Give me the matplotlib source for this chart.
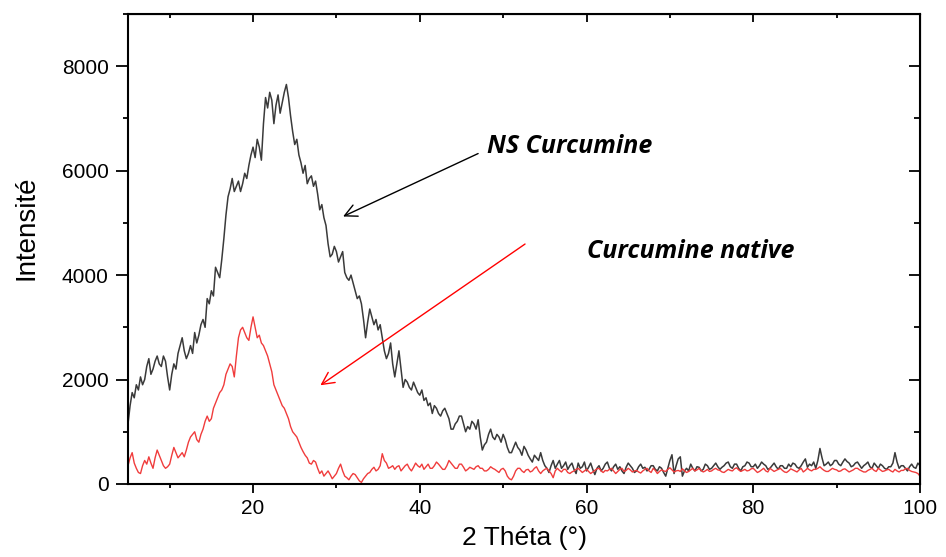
import numpy as np
import matplotlib.pyplot as plt
from matplotlib.ticker import MultipleLocator

# 2 Theta grid (degrees), 0.25 deg step, 5 -> 100
two_theta = np.arange(5.0, 100.001, 0.25)

# NS Curcumine (dark curve); one row = 2 degrees
ns_curcumine = [
    1150, 1500, 1750, 1650, 1900, 1800, 2050, 1900,   # 5
    2000, 2250, 2400, 2100, 2200, 2350, 2450, 2300,   # 7
    2250, 2450, 2350, 2050, 1800, 2100, 2300, 2200,   # 9
    2500, 2650, 2800, 2550, 2400, 2500, 2650, 2500,   # 11
    2900, 2700, 2850, 3050, 3150, 3000, 3550, 3450,   # 13
    3700, 3600, 4150, 4050, 3950, 4300, 4700, 5150,   # 15
    5500, 5650, 5850, 5600, 5700, 5800, 5600, 5750,   # 17
    5950, 5850, 6100, 6300, 6450, 6250, 6600, 6450,   # 19
    6200, 6900, 7400, 7200, 7500, 7350, 6900, 7250,   # 21
    7450, 7100, 7300, 7500, 7650, 7400, 7050, 6750,   # 23
    6500, 6600, 6300, 6150, 5950, 6100, 5750, 5850,   # 25
    5900, 5700, 5800, 5550, 5250, 5350, 5100, 4950,   # 27
    4600, 4350, 4400, 4550, 4450, 4250, 4350, 4450,   # 29
    4050, 3950, 3900, 4000, 3850, 3700, 3550, 3600,   # 31
    3450, 3150, 2800, 3100, 3350, 3200, 3050, 3150,   # 33
    2950, 3050, 2800, 2550, 2400, 2500, 2700, 2300,   # 35
    2050, 2300, 2550, 2200, 1850, 2000, 1950, 1850,   # 37
    1800, 1950, 1850, 1750, 1700, 1800, 1600, 1650,   # 39
    1500, 1550, 1350, 1500, 1450, 1350, 1300, 1400,   # 41
    1450, 1350, 1250, 1050, 1050, 1150, 1200, 1300,   # 43
    1300, 1150, 1000, 1100, 1050, 1200, 1150, 1050,   # 45
    1230, 900, 650, 750, 800, 950, 1050, 900,         # 47
    850, 950, 900, 800, 950, 850, 700, 600,           # 49
    600, 700, 800, 700, 650, 550, 720, 650,           # 51
    550, 480, 420, 550, 500, 450, 600, 450,           # 53
    350, 300, 220, 350, 450, 300, 380, 450,           # 55
    300, 350, 420, 280, 350, 400, 280, 200,           # 57
    400, 300, 330, 420, 250, 320, 400, 280,           # 59
    180, 300, 350, 250, 300, 380, 420, 300,           # 61
    250, 330, 380, 280, 330, 250, 200, 320,           # 63
    400, 350, 300, 220, 250, 330, 380, 300,           # 65
    320, 250, 280, 350, 350, 280, 250, 330,           # 67
    300, 220, 150, 300, 450, 560, 200, 350,           # 69
    480, 520, 150, 250, 300, 250, 380, 300,           # 71
    250, 330, 320, 250, 280, 380, 350, 280,           # 73
    300, 350, 400, 330, 280, 320, 350, 400,           # 75
    420, 330, 300, 380, 380, 300, 250, 330,           # 77
    350, 420, 400, 330, 330, 380, 300, 350,           # 79
    420, 380, 350, 280, 300, 350, 400, 330,           # 81
    280, 350, 350, 300, 300, 380, 330, 400,           # 83
    380, 320, 300, 350, 420, 480, 320, 380,           # 85
    350, 420, 300, 450, 680, 500, 350, 380,           # 87
    420, 350, 380, 450, 450, 380, 350, 420,           # 89
    480, 430, 400, 330, 350, 400, 420, 360,           # 91
    300, 350, 380, 420, 330, 300, 400, 350,           # 93
    300, 380, 350, 300, 280, 330, 330, 400,           # 95
    600, 420, 300, 350, 350, 300, 250, 330,           # 97
    380, 320, 300, 400, 350,                          # 99 - 100
]

# Curcumine native (red curve); one row = 2 degrees
curcumine_native = [
    350, 500, 600, 400, 300, 220, 200, 350,           # 5
    450, 380, 520, 400, 300, 500, 650, 550,           # 7
    450, 350, 300, 330, 380, 550, 700, 600,           # 9
    500, 550, 600, 520, 650, 800, 900, 950,           # 11
    1000, 850, 800, 950, 1050, 1200, 1300, 1200,      # 13
    1250, 1450, 1550, 1650, 1750, 1800, 1900, 2100,   # 15
    2200, 2300, 2250, 2050, 2450, 2800, 2950, 3000,   # 17
    2900, 2800, 2750, 3000, 3200, 3000, 2800, 2850,   # 19
    2700, 2650, 2550, 2450, 2300, 2150, 1900, 1800,   # 21
    1700, 1600, 1500, 1450, 1350, 1250, 1100, 1000,   # 23
    950, 900, 800, 700, 620, 550, 500, 400,           # 25
    380, 450, 420, 300, 200, 250, 150, 200,           # 27
    250, 180, 100, 150, 200, 300, 380, 250,           # 29
    150, 120, 80, 150, 200, 180, 120, 60,             # 31
    30, 100, 150, 200, 220, 280, 320, 250,            # 33
    280, 350, 580, 450, 400, 300, 320, 350,           # 35
    280, 330, 350, 250, 300, 350, 380, 300,           # 37
    250, 320, 400, 350, 320, 380, 280, 330,           # 39
    380, 300, 300, 350, 420, 380, 330, 280,           # 41
    280, 350, 450, 400, 350, 300, 300, 380,           # 43
    380, 320, 250, 280, 320, 300, 280, 330,           # 45
    350, 300, 300, 250, 250, 280, 330, 300,           # 47
    280, 250, 220, 280, 300, 250, 150, 100,           # 49
    80, 150, 250, 300, 300, 250, 220, 270,            # 51
    280, 230, 250, 300, 330, 250, 200, 250,           # 53
    280, 300, 250, 200, 120, 250, 300, 260,           # 55
    230, 280, 280, 220, 200, 230, 250, 280,           # 57
    300, 260, 220, 250, 280, 240, 200, 230,           # 59
    260, 290, 300, 250, 220, 260, 250, 280,           # 61
    300, 250, 200, 240, 280, 300, 240, 260,           # 63
    300, 270, 230, 250, 260, 230, 210, 250,           # 65
    280, 300, 250, 220, 300, 260, 200, 240,           # 67
    270, 250, 240, 280, 310, 270, 230, 250,           # 69
    260, 240, 290, 250, 220, 240, 270, 300,           # 71
    250, 270, 300, 260, 230, 250, 280, 240,           # 73
    250, 280, 300, 270, 260, 230, 220, 250,           # 75
    280, 260, 250, 290, 310, 270, 240, 260,           # 77
    280, 250, 260, 290, 300, 260, 220, 240,           # 79
    270, 300, 250, 230, 300, 270, 240, 260,           # 81
    280, 300, 260, 230, 220, 250, 290, 270,           # 83
    250, 230, 270, 300, 230, 260, 300, 270,           # 85
    250, 280, 280, 300, 330, 290, 260, 240,           # 87
    240, 270, 300, 280, 270, 240, 250, 280,           # 89
    290, 260, 230, 250, 270, 300, 300, 270,           # 91
    250, 230, 230, 260, 280, 300, 260, 240,           # 93
    300, 270, 240, 250, 270, 280, 250, 230,           # 95
    280, 250, 230, 260, 260, 290, 300, 260,           # 97
    240, 230, 220, 200, 150,                          # 99 - 100
]

plt.rcParams['font.family'] = ['Liberation Sans', 'DejaVu Sans']

fig = plt.figure(figsize=(9.46, 5.57), dpi=100)
ax = fig.add_axes([0.1353, 0.1311, 0.8372, 0.8438])

ax.plot(two_theta, ns_curcumine, color="#3a3a3a", linewidth=1.1)
ax.plot(two_theta, curcumine_native, color="#f03c3c", linewidth=1.0)

ax.set_xlim(5, 100)
ax.set_ylim(0, 9000)
ax.xaxis.set_major_locator(MultipleLocator(20))
ax.xaxis.set_minor_locator(MultipleLocator(10))
ax.yaxis.set_major_locator(MultipleLocator(2000))
ax.yaxis.set_minor_locator(MultipleLocator(1000))

ax.tick_params(which="both", direction="out", width=1.3, labelsize=15)
ax.tick_params(axis="x", which="major", length=6.5, pad=4)
ax.tick_params(axis="x", which="minor", length=3)
ax.tick_params(axis="y", which="major", length=9, pad=5)
ax.tick_params(axis="y", which="minor", length=3.6)
for side in ax.spines.values():
    side.set_linewidth(1.5)

# inward ticks on top and right, no labels
top = ax.secondary_xaxis("top")
top.xaxis.set_major_locator(MultipleLocator(20))
top.xaxis.set_minor_locator(MultipleLocator(10))
top.tick_params(which="both", direction="in", width=1.3, labeltop=False)
top.tick_params(which="major", length=6)
top.tick_params(which="minor", length=3)
right = ax.secondary_yaxis("right")
right.yaxis.set_major_locator(MultipleLocator(2000))
right.yaxis.set_minor_locator(MultipleLocator(1000))
right.tick_params(which="both", direction="in", width=1.3, labelright=False)
right.tick_params(which="major", length=8)
right.tick_params(which="minor", length=4)

ax.set_xlabel("2 Théta (°)", fontsize=19)
ax.xaxis.set_label_coords(0.501, -0.09)
ax.set_ylabel("Intensité", fontsize=20)
ax.yaxis.set_label_coords(-0.112, 0.545)

ax.annotate("", xy=(30.5, 5100), xytext=(47.3, 6350),
            arrowprops=dict(arrowstyle="->", color="black", lw=1.0,
                            mutation_scale=22))
ax.annotate("", xy=(27.8, 1860), xytext=(52.9, 4625),
            arrowprops=dict(arrowstyle="->", color="red", lw=1.0,
                            mutation_scale=22))

ax.text(48.1, 6470, "NS Curcumine", fontsize=18, fontweight="bold",
        style="italic", va="center", family=["Open Sans", "DejaVu Sans"])
ax.text(60.0, 4450, "Curcumine native", fontsize=18, fontweight="bold",
        style="italic", va="center", family=["Open Sans", "DejaVu Sans"])

plt.savefig("out.png", dpi=100)
plt.close()
